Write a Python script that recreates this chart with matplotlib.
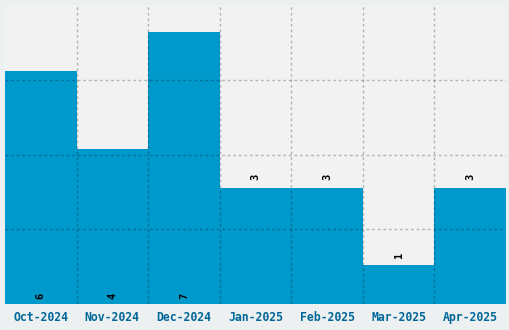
import numpy as np
import matplotlib
matplotlib.use("Agg")
import matplotlib.pyplot as plt

months = ["Oct-2024", "Nov-2024", "Dec-2024", "Jan-2025", "Feb-2025", "Mar-2025", "Apr-2025"]
counts = [6, 4, 7, 3, 3, 1, 3]

W, H = 510, 330
fig = plt.figure(figsize=(W / 100, H / 100), dpi=100, facecolor="#edf0f0")
ax = fig.add_axes([5 / W, 26 / H, 501 / W, 299 / H])
ax.set_facecolor("#f2f2f2")

x = np.arange(len(months))
ax.bar(x, counts, width=1.0, color="#0099cc", zorder=1)

ax.set_xlim(-0.5, len(months) - 0.5)
ymax = 7.7
ax.set_ylim(0, ymax)

# grid at inner bar boundaries and at inner quarters of the value range
ax.set_xticks(np.arange(1, len(months)) - 0.5, minor=True)
ax.set_yticks(np.linspace(0, ymax, 5)[1:-1])
ax.grid(True, which="minor", axis="x", color="black", alpha=0.25, linestyle=(0, (2, 2)), linewidth=1, zorder=2)
ax.grid(True, which="major", axis="y", color="black", alpha=0.25, linestyle=(0, (2, 2)), linewidth=1, zorder=2)
ax.grid(False, which="major", axis="x")
ax.set_axisbelow(False)

ax.set_xticks(x)
ax.set_xticklabels(months, family="DejaVu Sans Mono", fontweight="bold", fontsize=8.3, color="#006699")
ax.tick_params(axis="x", which="both", length=0, pad=5)
ax.tick_params(axis="y", which="both", length=0, labelleft=False)
for s in ax.spines.values():
    s.set_visible(False)

# value labels: inside at the base for tall bars, above otherwise
for xi, v in zip(x, counts):
    y = 0.2 if v >= 4 else v + 0.27
    ax.text(xi, y, str(v), rotation=90, ha="center", va="center",
            family="DejaVu Sans Mono", fontweight="bold", fontsize=7.5, color="black", zorder=3)

fig.savefig("out.png", dpi=100, facecolor=fig.get_facecolor())
